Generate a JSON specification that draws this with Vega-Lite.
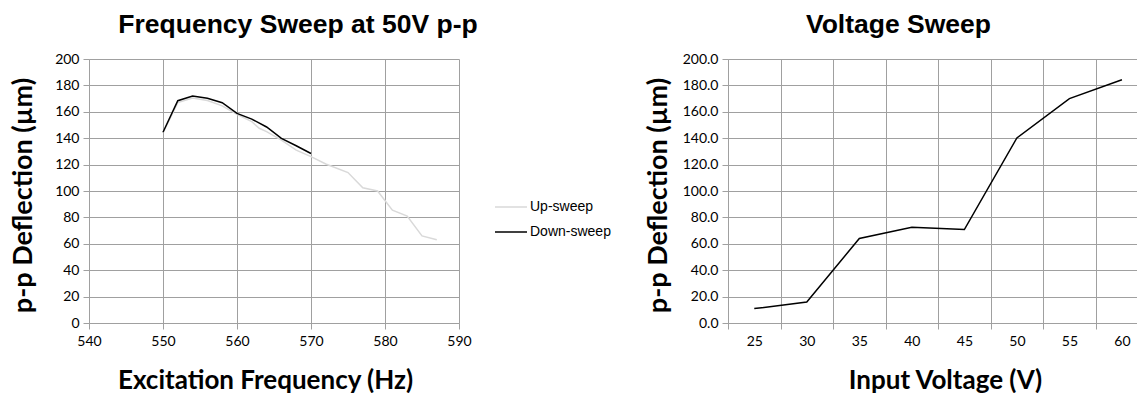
{
  "$schema": "https://vega.github.io/schema/vega-lite/v6.json",
  "background": "white",
  "padding": {"left": 8, "top": 11, "right": 0, "bottom": 0},
  "autosize": {"type": "pad"},
  "config": {
    "view": {"stroke": null},
    "axis": {
      "grid": true,
      "gridColor": "#a0a0a0",
      "gridWidth": 1,
      "domainColor": "#a0a0a0",
      "tickColor": "#a0a0a0",
      "tickSize": 6,
      "labelFont": "Lato",
      "labelFontSize": 14,
      "labelColor": "#000000",
      "labelPadding": 4,
      "labelFlush": false,
      "labelOverlap": false,
      "titleFont": "Lato",
      "titleFontSize": 26,
      "titleFontWeight": "bold",
      "titleColor": "#000000"
    },
    "title": {
      "font": "Liberation Sans",
      "fontSize": 26.5,
      "fontWeight": "bold",
      "color": "#000000",
      "anchor": "middle",
      "frame": "group",
      "offset": 14
    }
  },
  "datasets": {
    "freq": [
      {"f": 550, "v": 144.0, "sweep": "Up-sweep"},
      {"f": 552, "v": 167.0, "sweep": "Up-sweep"},
      {"f": 554, "v": 170.5, "sweep": "Up-sweep"},
      {"f": 556, "v": 168.5, "sweep": "Up-sweep"},
      {"f": 558, "v": 164.5, "sweep": "Up-sweep"},
      {"f": 560, "v": 158.0, "sweep": "Up-sweep"},
      {"f": 562, "v": 152.5, "sweep": "Up-sweep"},
      {"f": 563, "v": 147.5, "sweep": "Up-sweep"},
      {"f": 564, "v": 145.0, "sweep": "Up-sweep"},
      {"f": 566, "v": 138.5, "sweep": "Up-sweep"},
      {"f": 568, "v": 131.0, "sweep": "Up-sweep"},
      {"f": 570, "v": 126.0, "sweep": "Up-sweep"},
      {"f": 572, "v": 120.5, "sweep": "Up-sweep"},
      {"f": 575, "v": 114.0, "sweep": "Up-sweep"},
      {"f": 577, "v": 102.5, "sweep": "Up-sweep"},
      {"f": 579, "v": 100.0, "sweep": "Up-sweep"},
      {"f": 581, "v": 85.5, "sweep": "Up-sweep"},
      {"f": 583, "v": 81.0, "sweep": "Up-sweep"},
      {"f": 585, "v": 66.0, "sweep": "Up-sweep"},
      {"f": 587, "v": 63.0, "sweep": "Up-sweep"},
      {"f": 550, "v": 144.5, "sweep": "Down-sweep"},
      {"f": 552, "v": 168.4, "sweep": "Down-sweep"},
      {"f": 554, "v": 172.0, "sweep": "Down-sweep"},
      {"f": 556, "v": 170.2, "sweep": "Down-sweep"},
      {"f": 558, "v": 166.9, "sweep": "Down-sweep"},
      {"f": 560, "v": 158.8, "sweep": "Down-sweep"},
      {"f": 562, "v": 154.5, "sweep": "Down-sweep"},
      {"f": 564, "v": 148.5, "sweep": "Down-sweep"},
      {"f": 566, "v": 139.8, "sweep": "Down-sweep"},
      {"f": 568, "v": 134.3, "sweep": "Down-sweep"},
      {"f": 570, "v": 128.4, "sweep": "Down-sweep"}
    ],
    "volt": [
      {"V": 25, "d": 10.9},
      {"V": 30, "d": 15.9},
      {"V": 35, "d": 64.0},
      {"V": 40, "d": 72.6},
      {"V": 45, "d": 70.8},
      {"V": 50, "d": 140.2},
      {"V": 55, "d": 170.0},
      {"V": 60, "d": 184.3}
    ]
  },
  "bounds": "flush",
  "spacing": 269,
  "hconcat": [
    {
      "width": 370,
      "height": 264,
      "title": {"text": "Frequency Sweep at 50V p-p", "dx": 24},
      "data": {"name": "freq"},
      "encoding": {
        "x": {
          "field": "f",
          "type": "quantitative",
          "scale": {"domain": [540, 590], "nice": false, "zero": false},
          "axis": {
            "values": [540, 550, 560, 570, 580, 590],
            "title": "Excitation Frequency (Hz)",
            "titleX": 176,
            "titleY": 65,
            "titleBaseline": "alphabetic",
            "labelPadding": 5
          }
        },
        "y": {
          "field": "v",
          "type": "quantitative",
          "scale": {"domain": [0, 200], "nice": false},
          "axis": {
            "values": [0, 20, 40, 60, 80, 100, 120, 140, 160, 180, 200],
            "title": "p-p Deflection (µm)",
            "titleFontSize": 27,
            "titleX": -58,
            "titleY": 136,
            "titleAngle": -90,
            "titleAlign": "center",
            "titleBaseline": "alphabetic"
          }
        },
        "color": {
          "field": "sweep",
          "type": "nominal",
          "scale": {"domain": ["Up-sweep", "Down-sweep"], "range": ["#d9d9d9", "#000000"]},
          "legend": {
            "title": null,
            "orient": "none",
            "legendX": 405,
            "legendY": 131,
            "padding": 0,
            "symbolType": "stroke",
            "symbolSize": 1024,
            "symbolStrokeWidth": 1.5,
            "labelFont": "Liberation Sans",
            "labelFontSize": 14,
            "labelColor": "#000000",
            "labelOffset": 2,
            "rowPadding": 1
          }
        }
      },
      "layer": [
        {
          "transform": [{"filter": "datum.sweep === 'Up-sweep'"}],
          "mark": {"type": "line", "strokeWidth": 1.5}
        },
        {
          "transform": [{"filter": "datum.sweep === 'Down-sweep'"}],
          "mark": {"type": "line", "strokeWidth": 1.5}
        }
      ]
    },
    {
      "width": 410,
      "height": 264,
      "title": {"text": "Voltage Sweep", "dx": -34.5},
      "data": {"name": "volt"},
      "mark": {"type": "line", "color": "#000000", "strokeWidth": 1.5, "clip": true},
      "encoding": {
        "x": {
          "field": "V",
          "type": "quantitative",
          "scale": {"domain": [22.5, 61.53], "nice": false, "zero": false},
          "axis": {
            "values": [22.5, 27.5, 32.5, 37.5, 42.5, 47.5, 52.5, 57.5],
            "labelExpr": "format(datum.value + 2.5, 'd')",
            "labelOffset": 26.3,
            "title": "Input Voltage (V)",
            "titleX": 217,
            "titleY": 65,
            "titleBaseline": "alphabetic",
            "labelPadding": 5
          }
        },
        "y": {
          "field": "d",
          "type": "quantitative",
          "scale": {"domain": [0, 200], "nice": false},
          "axis": {
            "values": [0, 20, 40, 60, 80, 100, 120, 140, 160, 180, 200],
            "format": ".1f",
            "title": "p-p Deflection (µm)",
            "titleFontSize": 27,
            "titleX": -62,
            "titleY": 136,
            "titleAngle": -90,
            "titleAlign": "center",
            "titleBaseline": "alphabetic"
          }
        }
      }
    }
  ]
}
